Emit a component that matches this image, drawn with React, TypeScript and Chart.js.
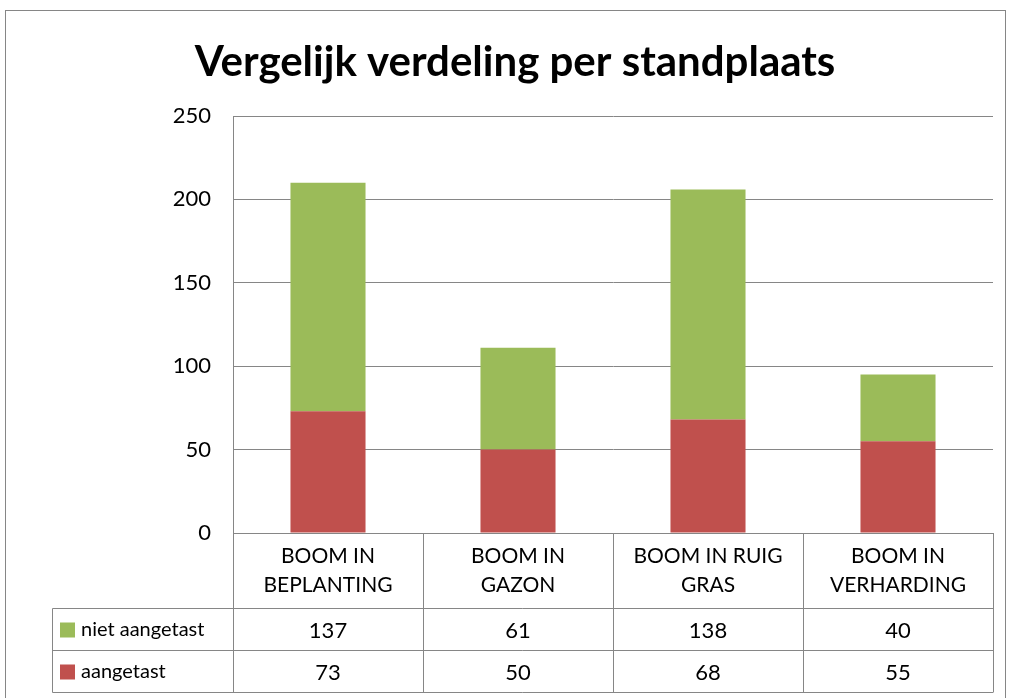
import React, { useEffect, useRef } from "react";
import { Chart, registerables } from "chart.js";

Chart.register(...registerables);

const categories: string[][] = [
  ["BOOM IN", "BEPLANTING"],
  ["BOOM IN", "GAZON"],
  ["BOOM IN RUIG", "GRAS"],
  ["BOOM IN", "VERHARDING"],
];
const nietAangetast = [137, 61, 138, 40];
const aangetast = [73, 50, 68, 55];
const yTicks = [0, 50, 100, 150, 200, 250];
const title = "Vergelijk verdeling per standplaats";

const RED = "#C0504D";
const GREEN = "#9BBB59";
const LINE = "#868686";
const FONT = "Lato";

const tablePlugin = {
  id: "dataTable",
  beforeDraw(chart: any) {
    const ctx = chart.ctx;
    ctx.save();
    ctx.fillStyle = "#fff";
    ctx.fillRect(0, 0, chart.width, chart.height);
    ctx.strokeStyle = LINE;
    ctx.lineWidth = 1;
    ctx.strokeRect(5.5, 10.5, 1000, 720);
    ctx.restore();
  },
  afterDraw(chart: any) {
    const ctx = chart.ctx;
    const area = chart.chartArea;
    const n = categories.length;
    const step = (area.right - area.left) / n;
    const top = Math.round(area.bottom) + 0.5;
    const headerH = 75;
    const rowH = 42;
    const r1 = top + headerH;
    const r2 = r1 + rowH;
    const r3 = r2 + rowH;
    const leftX = 52.5;
    ctx.save();
    // title
    ctx.fillStyle = "#000";
    ctx.textAlign = "center";
    ctx.textBaseline = "middle";
    ctx.font = `bold 42px ${FONT}`;
    ctx.fillText(title, 515, 62);

    ctx.strokeStyle = LINE;
    ctx.lineWidth = 1;
    ctx.beginPath();
    ctx.moveTo(leftX, r1); ctx.lineTo(area.right, r1);
    ctx.moveTo(leftX, r2); ctx.lineTo(area.right, r2);
    ctx.moveTo(leftX, r3); ctx.lineTo(area.right, r3);
    ctx.moveTo(leftX, r1); ctx.lineTo(leftX, r3);
    for (let i = 0; i <= n; i++) {
      const xx = Math.round(area.left + step * i) + 0.5;
      ctx.moveTo(xx, top); ctx.lineTo(xx, r3);
    }
    ctx.stroke();

    ctx.fillStyle = "#000";
    ctx.font = `21px ${FONT}`;
    const xs = chart.scales.x;
    categories.forEach((lines, i) => {
      const cx = xs.getPixelForValue(i);
      lines.forEach((ln, j) => {
        ctx.fillText(ln, cx, top + 23 + j * 29);
      });
    });
    ctx.font = `22px ${FONT}`;
    categories.forEach((_, i) => {
      const cx = xs.getPixelForValue(i);
      ctx.fillText(String(nietAangetast[i]), cx, r1 + rowH / 2 + 1);
      ctx.fillText(String(aangetast[i]), cx, r2 + rowH / 2 + 1);
    });
    // legend keys
    ctx.textAlign = "left";
    ctx.fillStyle = GREEN;
    ctx.fillRect(60, r1 + 14, 15, 15);
    ctx.fillStyle = RED;
    ctx.fillRect(60, r2 + 14, 15, 15);
    ctx.fillStyle = "#000";
    ctx.font = `20px ${FONT}`;
    ctx.fillText("niet aangetast", 81, r1 + rowH / 2);
    ctx.fillText("aangetast", 81, r2 + rowH / 2);
    ctx.restore();
  },
};

export default function App() {
  const ref = useRef<HTMLCanvasElement>(null);
  useEffect(() => {
    document.body.style.margin = "0";
    const chart = new Chart(ref.current!, {
      type: "bar",
      data: {
        labels: categories.map((c) => c.join(" ")),
        datasets: [
          {
            label: "aangetast",
            data: aangetast,
            backgroundColor: RED,
            categoryPercentage: 1,
            barPercentage: 0.395,
          },
          {
            label: "niet aangetast",
            data: nietAangetast,
            backgroundColor: GREEN,
            categoryPercentage: 1,
            barPercentage: 0.395,
          },
        ],
      },
      options: {
        responsive: false,
        animation: false,
        layout: { padding: { left: 0, right: 17, top: 116, bottom: 0 } },
        plugins: {
          legend: { display: false },
          tooltip: { enabled: false },
          title: { display: false },
        },
        scales: {
          x: {
            stacked: true,
            grid: { display: false },
            border: { display: true, color: LINE, width: 1 },
            ticks: { display: false },
            afterFit(scale: any) {
              scale.height = 165;
            },
          },
          y: {
            stacked: true,
            min: 0,
            max: 250,
            afterBuildTicks(scale: any) {
              scale.ticks = yTicks.map((v) => ({ value: v }));
            },
            grid: { color: LINE, drawTicks: false },
            border: { display: true, color: LINE, width: 1 },
            ticks: {
              color: "#000",
              padding: 22,
              font: { family: FONT, size: 22 },
            },
            afterFit(scale: any) {
              scale.width = 233;
            },
          },
        },
      },
      plugins: [tablePlugin],
    } as any);
    return () => chart.destroy();
  }, []);
  return (
    <div style={{ width: 1010, height: 698 }}>
      <canvas ref={ref} width={1010} height={698} />
    </div>
  );
}
